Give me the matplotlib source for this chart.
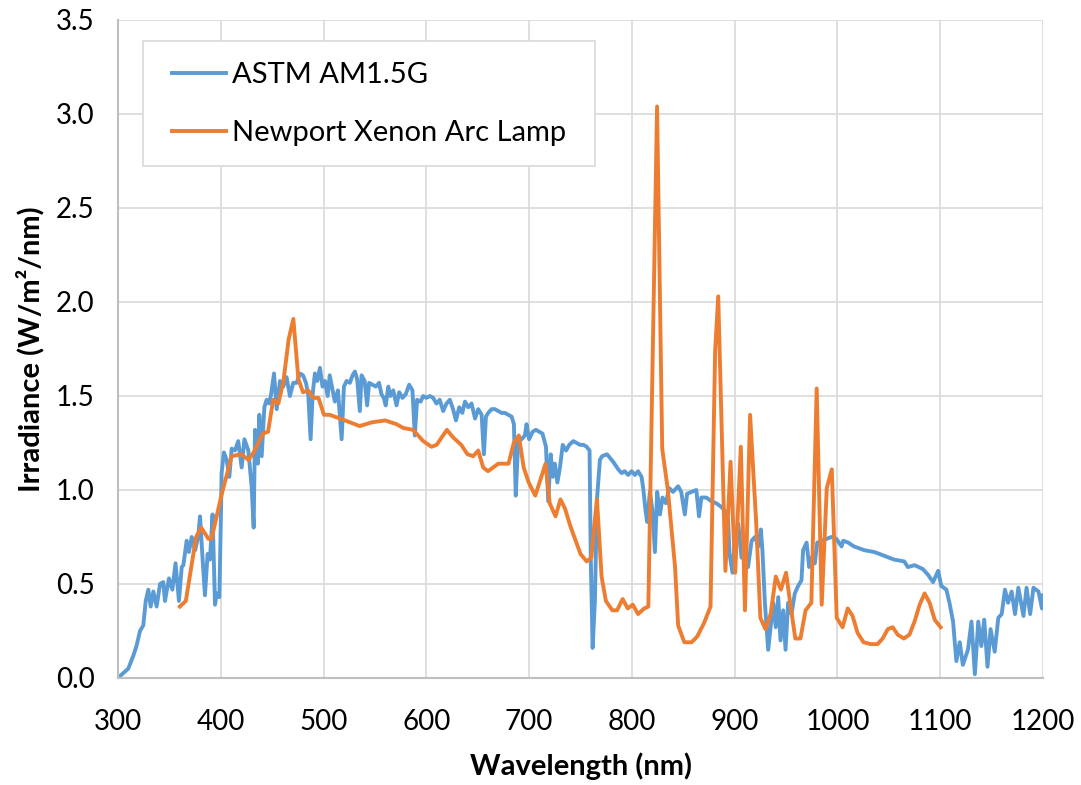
import numpy as np
import matplotlib
matplotlib.use('Agg')
import matplotlib.pyplot as plt
from matplotlib.patches import Rectangle

plt.rcParams['font.family'] = ['Lato', 'DejaVu Sans']

# ASTM AM1.5G reference spectrum
astm_nm = [300, 301.9, 310, 315, 318, 321.4, 324.6, 327, 329.5, 331.8, 334.4, 337.6, 340.9, 344, 345.7,
           349.6, 352.9, 356, 359.3, 362, 363.6, 366.8, 369, 371.7, 375, 378, 379.8, 382, 384.6, 387.2,
           389.5, 392, 394.4, 396, 398.6, 400.2, 400.8, 403, 405.7, 408.3, 410.6, 413.8, 417, 420.3, 423,
           426.8, 430, 432, 433.3, 436, 437.5, 439.8, 442.4, 444.6, 447, 449, 451.8, 454.4, 457.6, 460.8,
           464, 467.3, 470.5, 473.8, 477, 480, 482.9, 485.2, 487.4, 489.4, 491.6, 493.9, 496.5, 499,
           501.4, 504, 506, 508.8, 511, 514, 517.6, 519.8, 522.4, 525.6, 528.2, 530.5, 532.7, 535.3, 537,
           540, 542.4, 544.3, 547.6, 550.8, 554, 556.3, 558.6, 560.5, 563, 565, 567.8, 571, 573.6, 576.8,
           580, 583.3, 586.5, 588.8, 591, 594.4, 597, 600, 603.4, 606.6, 609.8, 613, 616.4, 619.6, 622.9,
           626, 628.8, 632, 635, 637.6, 640.8, 644, 647.4, 650.5, 653.8, 656, 658, 660.2, 663.5, 666.7,
           670, 673.2, 676.5, 679.7, 683, 685.2, 687, 689.4, 692.6, 695.9, 697.5, 700, 703.4, 706.6,
           709.8, 713, 716.4, 718.6, 721, 723, 725, 727.5, 730, 732.7, 736, 739, 743, 746.4, 749.6,
           752.9, 756, 758.8, 760, 761.8, 764, 766, 768.9, 771, 775.8, 781.8, 786.7, 790, 793, 796.4,
           799.7, 803, 806, 809.4, 811, 813.3, 814.9, 817.5, 820, 822.4, 824.6, 827.3, 829.8, 833,
           836.3, 840, 845, 848, 851.5, 853.7, 858, 862.7, 865.3, 867.6, 872.5, 877.3, 882, 887, 890.4,
           893.6, 895, 897.9, 900, 903.5, 906.7, 910, 913, 916.5, 919.7, 923, 925.5, 927, 929.4, 932.6,
           934.9, 937.5, 940, 942.4, 944.6, 947.2, 949.5, 952, 955.3, 958.5, 961.8, 965, 966.6, 970,
           972.5, 974.8, 978, 980.3, 984.5, 989.4, 994.2, 999, 1004, 1005.6, 1010.5, 1016, 1026, 1036,
           1045.6, 1055, 1065, 1068.5, 1075, 1083, 1088, 1093, 1098, 1101, 1106, 1109, 1112.5, 1115.7,
           1119, 1122, 1127, 1130.4, 1133.7, 1137, 1140, 1142.8, 1146, 1149, 1153, 1156.5, 1159.8,
           1163, 1166, 1169.5, 1172.8, 1176, 1181, 1184, 1187.5, 1190.7, 1195.6, 1199, 1200]
astm_irr = [0.00, 0.01, 0.05, 0.12, 0.17, 0.25, 0.28, 0.41, 0.47, 0.38, 0.46, 0.38, 0.50, 0.51, 0.41,
            0.53, 0.47, 0.61, 0.41, 0.59, 0.60, 0.73, 0.67, 0.75, 0.68, 0.75, 0.86, 0.66, 0.44, 0.66,
            0.63, 0.87, 0.39, 0.45, 0.43, 0.88, 1.09, 1.20, 1.16, 1.07, 1.22, 1.21, 1.26, 1.12, 1.27,
            1.21, 1.02, 0.80, 1.32, 1.14, 1.40, 1.18, 1.44, 1.48, 1.46, 1.51, 1.62, 1.43, 1.58, 1.55,
            1.60, 1.50, 1.57, 1.57, 1.62, 1.61, 1.57, 1.50, 1.27, 1.51, 1.62, 1.58, 1.65, 1.55,
            1.58, 1.50, 1.61, 1.53, 1.47, 1.53, 1.27, 1.55, 1.58, 1.57, 1.61, 1.63, 1.59, 1.42, 1.61,
            1.58, 1.45, 1.57, 1.56, 1.55, 1.57, 1.51, 1.49, 1.45, 1.55, 1.50, 1.53, 1.45, 1.52, 1.49,
            1.51, 1.56, 1.53, 1.29, 1.48, 1.47, 1.50, 1.49, 1.50, 1.49, 1.46, 1.48, 1.42, 1.46, 1.48,
            1.43, 1.37, 1.44, 1.41, 1.47, 1.44, 1.46, 1.38, 1.43, 1.40, 1.19, 1.39, 1.41, 1.43, 1.43,
            1.42, 1.41, 1.41, 1.40, 1.39, 1.35, 0.97, 1.26, 1.27, 1.29, 1.35, 1.27, 1.31, 1.32,
            1.31, 1.30, 1.23, 0.94, 1.19, 1.07, 1.14, 1.04, 1.12, 1.24, 1.21, 1.24, 1.26, 1.25, 1.24,
            1.24, 1.23, 1.21, 0.63, 0.16, 0.41, 0.95, 1.16, 1.18, 1.19, 1.15, 1.11, 1.09, 1.10, 1.08,
            1.10, 1.08, 1.10, 1.07, 1.01, 0.89, 0.83, 0.99, 0.89, 0.67, 0.99, 0.87, 0.96, 0.93,
            1.01, 0.99, 1.02, 0.99, 0.87, 0.98, 0.99, 1.00, 0.86, 0.96, 0.96, 0.94, 0.93, 0.91, 0.89,
            0.84, 0.66, 0.56, 0.73, 0.82, 0.64, 0.72, 0.59, 0.73, 0.75, 0.70, 0.79, 0.68, 0.40, 0.15,
            0.27, 0.40, 0.27, 0.43, 0.20, 0.36, 0.15, 0.40, 0.34, 0.45, 0.49, 0.52, 0.68, 0.72,
            0.59, 0.64, 0.61, 0.72, 0.73, 0.74, 0.75, 0.74, 0.70, 0.73, 0.72, 0.70, 0.68, 0.67,
            0.65, 0.63, 0.62, 0.59, 0.60, 0.58, 0.55, 0.51, 0.57, 0.49, 0.47, 0.40, 0.30, 0.09,
            0.19, 0.07, 0.15, 0.30, 0.02, 0.30, 0.17, 0.31, 0.06, 0.26, 0.14, 0.32, 0.34,
            0.47, 0.40, 0.46, 0.34, 0.48, 0.33, 0.48, 0.34, 0.48, 0.46, 0.37, 0.44]

# Newport xenon arc lamp
lamp_nm = [360.2, 366, 376, 381, 388, 391, 401, 410.6, 420, 427, 432, 441, 446, 451, 456, 461, 466,
           470.6, 475.5, 480, 485, 490, 495, 500.4, 506, 516, 530.5, 535, 547, 560, 571, 577.5, 587,
           597, 605, 610, 620, 626, 634, 640, 645.6, 650.5, 655.3, 660, 670, 680, 685, 690, 694.7,
           699.6, 706, 716, 720, 725.7, 730.5, 735, 740, 750, 756, 760.6, 763, 766, 768, 770.5, 774.7,
           781, 785.6, 791, 796, 800.9, 806, 812, 816, 824.5, 829.5, 835, 842, 845, 851, 858, 863.5,
           870, 876.5, 881, 884, 891, 896, 900.5, 906, 910, 915, 921, 925, 930, 935, 940, 945, 950,
           954, 959, 964, 969, 974.6, 979.8, 984.7, 989.6, 994.5, 999.3, 1005, 1010, 1014.7, 1019.6,
           1025.4, 1032.6, 1039, 1044, 1049, 1053.8, 1058.7, 1064.6, 1070, 1075, 1080, 1084.8,
           1089.7, 1094.6, 1100.4]
lamp_irr = [0.38, 0.41, 0.75, 0.80, 0.74, 0.74, 0.98, 1.18, 1.19, 1.16, 1.20, 1.30, 1.31, 1.48, 1.46, 1.58, 1.80,
            1.91, 1.59, 1.52, 1.53, 1.49, 1.49, 1.40, 1.40, 1.38, 1.35, 1.34, 1.36, 1.37, 1.35, 1.33, 1.32,
            1.26, 1.23, 1.24, 1.32, 1.28, 1.24, 1.19, 1.18, 1.21, 1.12, 1.10, 1.14, 1.14, 1.25, 1.29, 1.12,
            1.04, 0.97, 1.14, 0.93, 0.86, 0.95, 0.90, 0.81, 0.66, 0.62, 0.64, 0.79, 0.95, 0.77, 0.54, 0.41,
            0.36, 0.36, 0.42, 0.37, 0.39, 0.34, 0.37, 0.38, 3.04, 1.22, 1.00, 0.59, 0.28, 0.19, 0.19, 0.22,
            0.29, 0.38, 1.74, 2.03, 0.57, 1.15, 0.56, 1.23, 0.36, 1.40, 0.82, 0.32, 0.26, 0.34, 0.54, 0.47, 0.56,
            0.40, 0.21, 0.21, 0.36, 0.40, 1.54, 0.39, 1.01, 1.11, 0.32, 0.27, 0.37, 0.33, 0.24,
            0.19, 0.18, 0.18, 0.21, 0.26, 0.27, 0.23, 0.21, 0.23, 0.30, 0.39, 0.45,
            0.40, 0.31, 0.27]

fig = plt.figure(figsize=(10.81, 7.85), dpi=100)
ax = fig.add_axes([118/1081, 1 - 678/785, (1043 - 118)/1081, (678 - 20)/785])

ax.plot(astm_nm, astm_irr, color='#5B9BD5', lw=2.8, label='ASTM AM1.5G')
ax.plot(lamp_nm, lamp_irr, color='#ED7D31', lw=2.8, label='Newport Xenon Arc Lamp')

ax.set_xlim(300, 1200)
ax.set_ylim(0, 3.5)
ax.set_xticks(np.arange(300, 1201, 100))
ax.set_yticks(np.arange(0, 3.51, 0.5))
ax.yaxis.set_major_formatter(matplotlib.ticker.FormatStrFormatter('%.1f'))
ax.grid(color='#d9d9d9', lw=1.2)
ax.set_axisbelow(True)
ax.tick_params(length=0, labelsize=20)
ax.tick_params(axis='x', pad=22)
ax.tick_params(axis='y', pad=17)
for s in ['top', 'right']:
    ax.spines[s].set_visible(False)
for s in ['left', 'bottom']:
    ax.spines[s].set_color('#bfbfbf')
    ax.spines[s].set_linewidth(1.5)

ax.set_xlabel('Wavelength (nm)', fontsize=21, fontweight='bold', labelpad=13)
ax.set_ylabel('Irradiance (W/m²/nm)', fontsize=21, fontweight='bold', labelpad=8)

# legend box
ax.add_patch(Rectangle((143/1081, 1 - 166/785), 452/1081, 125/785, transform=fig.transFigure,
                       facecolor='white', edgecolor='#d9d9d9', lw=1.2, zorder=4, clip_on=False))
leg = ax.legend(loc='center left', bbox_to_anchor=(172/1081, 1 - 104/785), bbox_transform=fig.transFigure,
                fontsize=21, frameon=False, handlelength=1.85, handletextpad=0.2,
                labelspacing=1.1, borderpad=0, borderaxespad=0)
leg.set_zorder(5)

fig.savefig('out.png', dpi=100)
